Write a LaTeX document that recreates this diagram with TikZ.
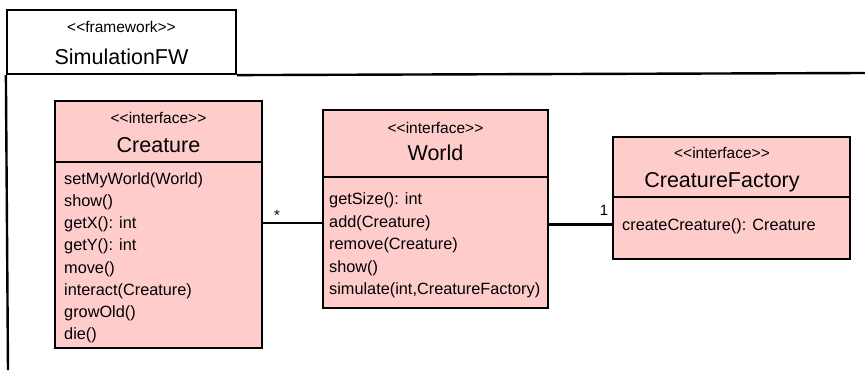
\documentclass[tikz,border=0pt]{standalone}
\usepackage{fontspec}
\setmainfont[Ligatures=NoCommon]{Liberation Sans}
\definecolor{umlpink}{HTML}{FFCCCC}
\newcommand{\lgl}{<{}<}
\newcommand{\rgr}{>{}>}
\begin{document}
\begin{tikzpicture}[x=1pt,y=-1pt,
  cls/.style={draw=black,line width=2.4pt,fill=umlpink,inner sep=0pt},
  stereo/.style={font=\fontsize{15.5}{15.5}\selectfont,inner sep=0pt},
  title/.style={font=\fontsize{21.5}{21.5}\selectfont,inner sep=0pt},
  meth/.style={font=\fontsize{16.3}{16.3}\selectfont,inner sep=0pt,anchor=mid west},
  frame/.style={line width=2.4pt},
  conn/.style={line width=2.2pt},
  mult/.style={font=\fontsize{15}{15}\selectfont,inner sep=0pt}]
\useasboundingbox[fill=white] (0,0) rectangle (865,370);
% framework
\node[draw,line width=2.2pt,minimum width=229pt,minimum height=64pt,inner sep=0pt] (fw) at (121.5,42) {};
\draw[frame] (fw.south west) -- (8,370);
\draw[frame] (fw.south east) -- (865,73);
\node[stereo] (fwst) at (121.5,27) {\lgl framework\rgr};
\node[title] (fwt) at (121.5,57) {SimulationFW};
% Creature
\node[cls,minimum width=207pt,minimum height=247pt] (cr) at (158.5,224.5) {};
\draw[line width=2.2pt] (cr.west |- 0,162) -- (cr.east |- 0,162);
\node[stereo] (crst) at (158.5,118) {\lgl interface\rgr};
\node[title] (crt) at (158.5,145) {Creature};
\foreach \t [count=\i from 0] in {setMyWorld(World),show(),getX(): int,getY(): int,move(),interact(Creature),growOld(),die()}
  \node[meth] (crm\i) at (64,182+22.1*\i) {\t};
% World
\node[cls,minimum width=225pt,minimum height=198pt] (wo) at (435.5,209) {};
\draw[line width=2.2pt] (wo.west |- 0,177) -- (wo.east |- 0,177);
\node[stereo] (wost) at (435.5,128) {\lgl interface\rgr};
\node[title] (wot) at (435.5,153) {World};
\foreach \t [count=\i from 0] in {getSize(): int,add(Creature),remove(Creature),show(),{simulate(int,CreatureFactory)}}
  \node[meth] (wom\i) at (329,202+22.5*\i) {\t};
% CreatureFactory
\node[cls,minimum width=237pt,minimum height=122pt] (cf) at (731.5,198) {};
\draw[line width=2.2pt] (cf.west |- 0,197) -- (cf.east |- 0,197);
\node[stereo] (cfst) at (722,153) {\lgl interface\rgr};
\node[title] (cft) at (722,182) {CreatureFactory};
\node[meth] (cfm0) at (622,228) {createCreature(): Creature};
% connectors
\draw[conn] (cr.east |- 0,223) -- (wo.west |- 0,223);
\draw[conn] (wo.east |- 0,224.5) -- (cf.west |- 0,224.5);
\node[mult] (m1) at (277,215) {*};
\node[mult] (m2) at (604,210) {1};
\end{tikzpicture}
\end{document}
